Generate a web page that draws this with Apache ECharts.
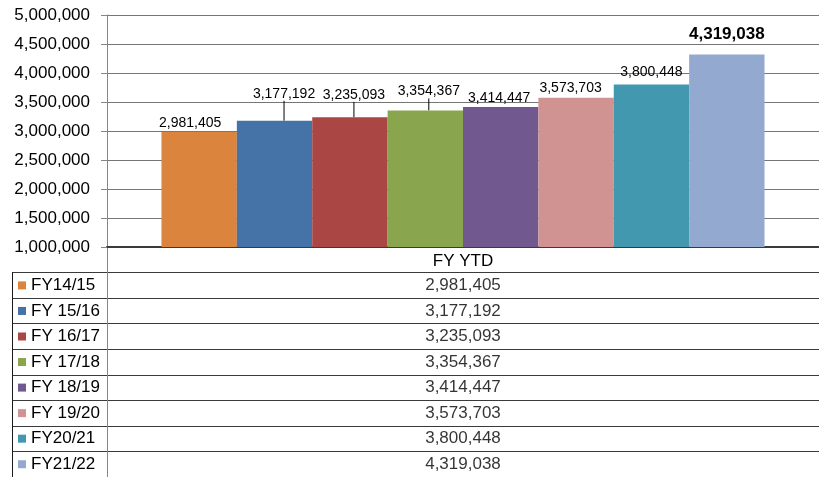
<!DOCTYPE html>
<html><head><meta charset="utf-8">
<script src="https://cdn.jsdelivr.net/npm/echarts@6/dist/echarts.min.js"></script>
<style>html,body{margin:0;padding:0;background:#fff}#c{width:819px;height:477px}</style>
</head><body><div id="c"></div>
<script>
// ---- data ----
const categories = ['FY YTD'];
const seriesNames = ['FY14/15', 'FY 15/16', 'FY 16/17', 'FY 17/18', 'FY 18/19', 'FY 19/20', 'FY20/21', 'FY21/22'];
const seriesValues = [2981405, 3177192, 3235093, 3354367, 3414447, 3573703, 3800448, 4319038];
const yMin = 1000000, yMax = 5000000, yStep = 500000;

// ---- style ----
const colors = ['#DB843D', '#4572A7', '#AA4643', '#89A54E', '#71588F', '#D19392', '#4198AF', '#94A9D0'];
const labelShift = [[-9, 1], [9.5, -17], [4, -12.5], [3.5, -9], [-1.5, 1], [-5.5, 0.5], [0, -2.5], [0, -9]];
const withLeader = [false, true, true, true, false, false, false, false];
const FONT = "'Liberation Sans', Arial, sans-serif";
const fmt = v => Number(v).toLocaleString('en-US');

const chart = echarts.init(document.getElementById('c'), null, {renderer: 'canvas'});

const ROW = 25.63;
const rich = {gap: {width: 5}, t: {fontSize: 17, color: '#000', fontFamily: FONT}};
colors.forEach((c, i) => { rich['s' + i] = {width: 8, height: 8, backgroundColor: c}; });

const barSeries = seriesNames.map((name, i) => ({
  name, type: 'bar', xAxisIndex: 0, yAxisIndex: 0,
  data: [seriesValues[i]],
  barGap: '0%', barCategoryGap: '15.3%',
  itemStyle: {color: colors[i]},
  label: {
    show: true, position: 'top', distance: 3,
    fontFamily: FONT, color: '#000',
    fontSize: i === 7 ? 17 : 14, fontWeight: i === 7 ? 'bold' : 'normal',
    formatter: p => fmt(p.value)
  },
  labelLayout: {dx: labelShift[i][0], dy: labelShift[i][1]},
  labelLine: {show: withLeader[i], lineStyle: {color: '#000', width: 1, opacity: 1}},
  emphasis: {disabled: true}
}));

const tableSeries = {
  type: 'scatter', xAxisIndex: 1, yAxisIndex: 1,
  symbolSize: 1, itemStyle: {color: 'rgba(0,0,0,0)'},
  data: seriesValues.map((v, i) => [0.5, i + 1, v]),
  label: {show: true, position: 'inside', fontFamily: FONT, fontSize: 17, color: '#000',
    formatter: p => fmt(p.value[2])},
  silent: true
};

chart.setOption({
  animation: false,
  textStyle: {fontFamily: FONT},
  grid: [
    {left: 107, right: -3, top: 15, height: 232, containLabel: false},
    {left: 107, right: -3, top: 247, height: ROW * 9},
    {left: 12, width: 95, top: 247 + ROW, height: ROW * 8}
  ],
  xAxis: [
    {type: 'category', gridIndex: 0, data: categories,
      axisLine: {show: true, lineStyle: {color: '#3a3a3a', width: 2}},
      axisTick: {show: false},
      axisLabel: {margin: 6, fontSize: 17, color: '#000', fontFamily: FONT}},
    {type: 'value', gridIndex: 1, min: 0, max: 1, show: false},
    {type: 'value', gridIndex: 2, min: 0, max: 1, show: false}
  ],
  yAxis: [
    {type: 'value', gridIndex: 0, min: yMin, max: yMax, interval: yStep,
      axisLine: {show: true, lineStyle: {color: '#868686'}},
      axisTick: {show: true, length: 6, lineStyle: {color: '#868686'}},
      splitLine: {show: true, lineStyle: {color: '#767676'}},
      axisLabel: {margin: 17, fontSize: 17, color: '#000', fontFamily: FONT, formatter: v => fmt(v)}},
    {type: 'category', gridIndex: 1, inverse: true, data: [''].concat(seriesNames),
      axisLine: {show: true, lineStyle: {color: '#868686'}},
      axisTick: {show: false}, axisLabel: {show: false},
      splitLine: {show: true, interval: 0, lineStyle: {color: '#3a3a3a'}}},
    {type: 'category', gridIndex: 2, inverse: true, data: seriesNames,
      axisLine: {show: true, lineStyle: {color: '#1a1a1a'}},
      axisTick: {show: false},
      splitLine: {show: true, interval: 0, lineStyle: {color: '#3a3a3a'}},
      axisLabel: {inside: true, margin: 6, interval: 0,
        formatter: (v, i) => '{s' + i + '|}{gap|}{t|' + v + '}', rich}}
  ],
  series: barSeries.concat([tableSeries])
});
</script></body></html>
